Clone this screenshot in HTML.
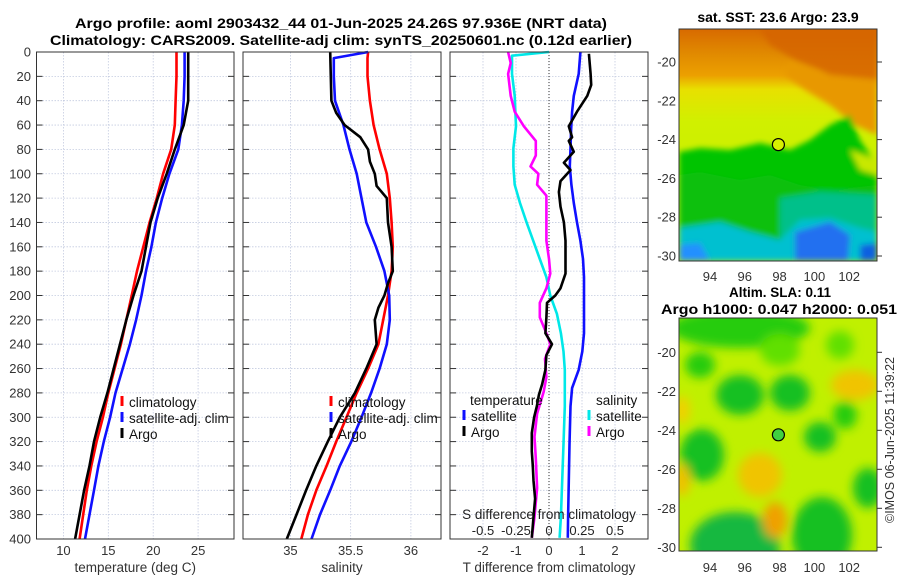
<!DOCTYPE html>
<html><head><meta charset="utf-8"><style>
html,body{margin:0;padding:0;background:#fff}
svg{display:block;font-family:"Liberation Sans",sans-serif}
</style></head><body>
<svg id="c" width="900" height="580" viewBox="0 0 900 580">
<defs>
<filter id="bl" x="-20%" y="-20%" width="140%" height="140%"><feGaussianBlur stdDeviation="3"/></filter>
<filter id="bl2" x="-30%" y="-30%" width="160%" height="160%"><feGaussianBlur stdDeviation="5"/></filter>
<clipPath id="m1c"><rect x="679" y="29" width="198" height="232"/></clipPath>
<clipPath id="m2c"><rect x="679" y="318" width="198" height="233"/></clipPath>
<linearGradient id="sstg" x1="0" y1="0" x2="0" y2="1">
<stop offset="0" stop-color="#d86a00"/><stop offset="0.1" stop-color="#e08800"/><stop offset="0.2" stop-color="#eca000"/><stop offset="0.26" stop-color="#e8e000"/><stop offset="0.4" stop-color="#d0f000"/><stop offset="1" stop-color="#c0f000"/></linearGradient>
</defs>
<text x="341" y="28" text-anchor="middle" font-weight="bold" font-size="13.5" textLength="532" lengthAdjust="spacingAndGlyphs">Argo profile: aoml 2903432_44 01-Jun-2025 24.26S 97.936E (NRT data)</text>
<text x="341" y="45" text-anchor="middle" font-weight="bold" font-size="13.5" textLength="582" lengthAdjust="spacingAndGlyphs">Climatology: CARS2009. Satellite-adj clim: synTS_20250601.nc (0.12d earlier)</text>

<!-- SST map -->
<g clip-path="url(#m1c)">
<rect x="679" y="29" width="198" height="232" fill="url(#sstg)"/>
<g filter="url(#bl)">
<polygon points="760,29 877,29 877,95 850,85 820,70 795,60 770,45" fill="#d46200" opacity="0.8"/>
<polygon points="790,60 830,75 877,80 877,135 855,125 830,105 805,90 785,75" fill="#e89800"/>
<polygon points="679,152 700,148 730,150 760,143 790,150 810,140 830,125 850,115 860,140 877,165 877,261 679,261" fill="#00c400"/>
<polygon points="679,175 700,172 740,180 770,175 800,185 830,190 877,185 877,261 679,261" fill="#08c010"/>
<polygon points="780,198 820,192 877,195 877,261 780,261" fill="#00c08a"/>
<polygon points="679,228 720,222 750,232 780,240 800,220 830,218 860,228 877,232 877,261 679,261" fill="#00c0d0"/>
<polygon points="795,232 830,222 850,235 848,261 795,261" fill="#2070f0"/>
<polygon points="679,245 700,243 710,261 679,261" fill="#2090ff"/>
<polygon points="860,245 877,243 877,261 860,261" fill="#1060e0"/>
<polygon points="850,150 877,160 877,175 860,170" fill="#c8e800"/>
</g>
</g>
<rect x="679" y="29" width="198" height="232" fill="none" stroke="#333" stroke-width="1"/>
<circle cx="778.4" cy="144.6" r="6" fill="#d8f000" stroke="#000" stroke-width="1.2"/>
<text x="778" y="22" text-anchor="middle" font-weight="bold" font-size="14">sat. SST: 23.6 Argo: 23.9</text>

<!-- SLA map -->
<g clip-path="url(#m2c)">
<rect x="679" y="318" width="198" height="233" fill="#c0f000"/>
<g filter="url(#bl2)">
<ellipse cx="740" cy="328" rx="70" ry="20" fill="#28cc10"/>
<ellipse cx="700" cy="365" rx="15" ry="13" fill="#28cc10"/>
<ellipse cx="740" cy="395" rx="24" ry="20" fill="#18c020"/>
<ellipse cx="790" cy="393" rx="20" ry="18" fill="#18c020"/>
<ellipse cx="702" cy="455" rx="22" ry="26" fill="#18c020"/>
<ellipse cx="820" cy="437" rx="16" ry="15" fill="#18c020"/>
<ellipse cx="845" cy="415" rx="12" ry="14" fill="#28cc10"/>
<ellipse cx="868" cy="488" rx="15" ry="20" fill="#18c020"/>
<ellipse cx="735" cy="545" rx="45" ry="33" fill="#18b840"/>
<ellipse cx="822" cy="535" rx="30" ry="38" fill="#18c020"/>
<ellipse cx="840" cy="345" rx="14" ry="14" fill="#60e000"/>
<ellipse cx="780" cy="350" rx="20" ry="16" fill="#60e000"/>
<ellipse cx="760" cy="475" rx="22" ry="22" fill="#f0c400"/>
<ellipse cx="775" cy="520" rx="12" ry="18" fill="#f0a000"/>
<ellipse cx="855" cy="385" rx="24" ry="15" fill="#f0c400"/>
<ellipse cx="682" cy="410" rx="8" ry="14" fill="#f0d000"/>
<ellipse cx="682" cy="480" rx="8" ry="16" fill="#f0c000"/>
</g>
</g>
<rect x="679" y="318" width="198" height="233" fill="none" stroke="#333" stroke-width="1"/>
<circle cx="778.4" cy="434.8" r="6" fill="#40d040" stroke="#000" stroke-width="1.2"/>
<text x="780" y="297" text-anchor="middle" font-weight="bold" font-size="13.5">Altim. SLA: 0.11</text>
<text x="779" y="314" text-anchor="middle" font-weight="bold" font-size="13.5" textLength="236" lengthAdjust="spacingAndGlyphs">Argo h1000: 0.047 h2000: 0.051</text>
<text transform="translate(894,440) rotate(-90)" text-anchor="middle" font-size="12.5" fill="#333">©IMOS 06-Jun-2025 11:39:22</text>
<g id="maps-axes"></g>
<g id="plots"></g>
</svg>
<script>
// ---- data (depth in m) ----
const climDepth = [0,20,40,60,80,100,120,140,160,180,200,220,240,260,280,300,320,340,360,380,400];
const tempClim  = [22.6,22.6,22.5,22.4,22.0,21.1,20.4,19.6,18.9,18.2,17.6,17.0,16.4,15.7,15.0,14.4,13.7,13.1,12.6,12.2,11.8];
const tempSat   = [23.5,23.5,23.4,23.2,22.8,21.8,21.0,20.3,19.8,19.2,18.7,18.1,17.4,16.6,15.8,15.2,14.5,13.9,13.4,12.9,12.4];
const tempArgo  = [23.9,23.9,23.9,23.4,22.4,21.5,20.5,19.7,19.2,18.7,17.8,17.0,16.3,15.6,14.9,14.1,13.4,12.9,12.3,11.8,11.3];
const salDepthClim = [0,5,20,40,60,80,100,120,140,160,180,200,220,240,260,280,300,320,340,360,380,400];
const salClim   = [35.645,35.64,35.64,35.66,35.69,35.74,35.80,35.825,35.84,35.85,35.84,35.81,35.77,35.73,35.645,35.55,35.465,35.38,35.30,35.215,35.145,35.09];
const salSat    = [35.645,35.36,35.36,35.37,35.44,35.49,35.55,35.59,35.63,35.71,35.78,35.82,35.825,35.80,35.74,35.67,35.59,35.505,35.41,35.33,35.245,35.175];
const salArgoDepth = [0,20,40,50,60,70,80,90,100,110,120,140,160,180,190,200,210,220,240,260,280,300,320,340,360,380,400];
const salArgo   = [35.33,35.335,35.34,35.38,35.45,35.58,35.645,35.66,35.70,35.715,35.80,35.81,35.84,35.85,35.81,35.78,35.73,35.70,35.715,35.63,35.535,35.41,35.31,35.215,35.13,35.05,34.97];
const tdDepthArgo = [1.5,18,27,36,49,61,70,73,82,91,97,106,115,127,140,155,170,182,194,200,206,218,231,240,249,261,273,282,291,300,313,328,340,352,367,382,399];
const tdArgo = [1.21,1.26,1.28,1.16,0.85,0.60,0.70,0.60,0.75,0.45,0.65,0.35,0.30,0.35,0.45,0.50,0.50,0.50,0.35,0.19,-0.06,-0.08,-0.11,0.09,-0.08,-0.11,-0.21,-0.31,-0.37,-0.45,-0.52,-0.52,-0.49,-0.47,-0.42,-0.47,-0.52];
const tdDepthSat = [0,18,36,49,64,79,94,109,124,140,155,170,185,200,215,231,246,261,276,291,322,352,382,399];
const tdSat = [0.95,0.90,0.75,0.70,0.67,0.65,0.63,0.68,0.75,0.85,0.95,1.03,1.06,1.06,1.06,1.06,1.01,0.90,0.70,0.65,0.62,0.60,0.58,0.57];
const sdDepthSat = [0,3,18,36,61,79,94,109,124,140,155,170,185,200,215,231,246,261,276,291,322,352,382,399];
const sdSat = [0,-0.28,-0.28,-0.26,-0.25,-0.27,-0.27,-0.26,-0.22,-0.17,-0.12,-0.07,-0.02,0.01,0.06,0.09,0.11,0.12,0.12,0.12,0.11,0.10,0.09,0.08];
const sdDepthArgo = [0,9,18,36,49,61,73,85,94,100,109,118,134,155,170,182,194,206,218,231,240,252,267,279,297,316,334,358,382,399];
const sdArgo = [-0.31,-0.29,-0.31,-0.29,-0.26,-0.19,-0.10,-0.10,-0.14,-0.08,-0.09,-0.02,-0.02,-0.02,0.00,0.01,-0.02,-0.07,-0.07,-0.02,0.01,-0.03,-0.02,-0.04,-0.09,-0.11,-0.10,-0.09,-0.11,-0.13];
const depthTicks = [0,20,40,60,80,100,120,140,160,180,200,220,240,260,280,300,320,340,360,380,400];
const tempTicks = [10,15,20,25];
const salTicks = [35,35.5,36];
const tdTicks = [-2,-1,0,1,2];
const sdTicks = [-0.5,-0.25,0,0.25,0.5];
const sdTickLabels = ["-0.5","-0.25","0","0.25","0.5"];
const latTicks = [-20,-22,-24,-26,-28,-30];
const lonTicks = [94,96,98,100,102];

const NS="http://www.w3.org/2000/svg";
const plots=document.getElementById('plots');
function mk(tag,attrs,parent){const e=document.createElementNS(NS,tag);for(const k in attrs)e.setAttribute(k,attrs[k]);(parent||plots).appendChild(e);return e;}
const Y0=52,Y1=539;
function yScale(d){return Y0+(d/400)*(Y1-Y0);}
function xScaleF(x0,x1,a,b){return v=>x0+(v-a)/(b-a)*(x1-x0);}
const panels=[
 {name:'temperature',x0:36.5,x1:234,sx:xScaleF(36.5,234,7,29),ticks:tempTicks,labels:tempTicks.map(String),title:'temperature (deg C)'},
 {name:'salinity',x0:243,x1:441,sx:xScaleF(243,441,34.606,36.25),ticks:salTicks,labels:salTicks.map(String),title:'salinity'},
 {name:'difference',x0:450,x1:648,sx:xScaleF(450,648,-3,3),ticks:tdTicks,labels:tdTicks.map(String),title:'T difference from climatology'}
];
const sxS=xScaleF(450,648,-0.75,0.75);
panels.forEach((p,i)=>{
  const g=mk('g',{});
  
  
  depthTicks.forEach(d=>{
    const l=mk('line',{x1:p.x0,x2:p.x1,y1:yScale(d),y2:yScale(d),stroke:'#c4cbe0','stroke-width':0.8,'stroke-dasharray':'1.5,1.5'},g);
    
    
    mk('line',{x1:p.x0,x2:p.x0+6,y1:yScale(d),y2:yScale(d),stroke:'#333'},g);
    mk('line',{x1:p.x1-6,x2:p.x1,y1:yScale(d),y2:yScale(d),stroke:'#333'},g);
  });
  p.ticks.forEach((t,j)=>{
    const x=p.sx(t);
    const l=mk('line',{x1:x,x2:x,y1:Y0,y2:Y1,stroke:'#c4cbe0','stroke-width':0.8,'stroke-dasharray':'1.5,1.5'},g);
    
    
    const tl=mk('text',{x:x,y:555,'text-anchor':'middle','font-size':13,fill:'#333'},g);
    tl.textContent=p.labels[j];
    
    
  });
  const at=mk('text',{x:(p.x0+p.x1)/2,y:572,'text-anchor':'middle','font-size':13.5,fill:'#333'},g);
  at.textContent=p.title;
  
  
});
depthTicks.forEach(d=>{
  const t=mk('text',{x:31,y:yScale(d)+4.5,'text-anchor':'end','font-size':13,fill:'#333'});
  t.textContent=String(d);
  
  
});
function line(xs,ds,sx,color,name,w){
  const pts=xs.map((v,i)=>sx(v).toFixed(1)+','+yScale(ds[i]).toFixed(1)).join(' ');
  const e=mk('polyline',{points:pts,fill:'none',stroke:color,'stroke-width':w||2.6,'stroke-linejoin':'round'});
  
  
}
const P=panels;
const zl=mk('line',{x1:P[2].sx(0),x2:P[2].sx(0),y1:Y0,y2:Y1,stroke:'#333','stroke-width':1,'stroke-dasharray':'1,2'});


line(tempClim,climDepth,P[0].sx,'#ff0000','temp-climatology-line');
line(tempSat,climDepth,P[0].sx,'#1010ff','temp-satellite-line');
line(tempArgo,climDepth,P[0].sx,'#000','temp-argo-line');
line(salClim,salDepthClim,P[1].sx,'#ff0000','sal-climatology-line');
line(salSat,salDepthClim,P[1].sx,'#1010ff','sal-satellite-line');
line(salArgo,salArgoDepth,P[1].sx,'#000','sal-argo-line');
line(sdSat,sdDepthSat,sxS,'#00e8e8','sdiff-satellite-line');
line(sdArgo,sdDepthArgo,sxS,'#ff00ff','sdiff-argo-line');
line(tdSat,tdDepthSat,P[2].sx,'#1010ff','tdiff-satellite-line');
line(tdArgo,tdDepthArgo,P[2].sx,'#000','tdiff-argo-line');
P.forEach(p=>{
  const r=mk('rect',{x:p.x0,y:Y0,width:p.x1-p.x0,height:Y1-Y0,fill:'none',stroke:'#333','stroke-width':1});
  
  
});
const st=mk('text',{x:549,y:519,'text-anchor':'middle','font-size':13.5,fill:'#222'});
st.textContent='S difference from climatology';


sdTicks.forEach((t,j)=>{
  const e=mk('text',{x:sxS(t),y:535,'text-anchor':'middle','font-size':13,fill:'#222'});
  e.textContent=sdTickLabels[j];
  
  
});
function legendEntry(x,y,color,label){
  const g=mk('g',{});
  
  
  mk('line',{x1:x,x2:x,y1:y-11,y2:y-1,stroke:color,'stroke-width':3},g);
  const t=mk('text',{x:x+7,y:y,'font-size':13.5,fill:'#111'},g);
  t.textContent=label;
}
[[122,'#ff0000','climatology'],[122,'#1010ff','satellite-adj. clim'],[122,'#000','Argo']].forEach((e,i)=>legendEntry(e[0],407+i*16,e[1],e[2]));
[[331,'#ff0000','climatology'],[331,'#1010ff','satellite-adj. clim'],[331,'#000','Argo']].forEach((e,i)=>legendEntry(e[0],407+i*16,e[1],e[2]));
const th=mk('text',{x:470,y:405,'font-size':13.5,fill:'#111'});th.textContent='temperature';


const sh=mk('text',{x:596,y:405,'font-size':13.5,fill:'#111'});sh.textContent='salinity';


legendEntry(464,421,'#1010ff','satellite');
legendEntry(464,437,'#000','Argo');
legendEntry(589,421,'#00e8e8','satellite');
legendEntry(589,437,'#ff00ff','Argo');
const ma=document.getElementById('maps-axes');
function lonX(l){return 679+(l-92.22)*17.4;}
[[62,19.4,281],[352.3,19.5,572]].forEach((m,k)=>{
  latTicks.forEach(lt=>{
    const py=m[0]+((-20-lt))*m[1];
    const t=mk('text',{x:676,y:py+4.5,'text-anchor':'end','font-size':13,fill:'#333'},ma);
    t.textContent=String(lt);
    
    
    mk('line',{x1:877,x2:882,y1:py,y2:py,stroke:'#333'},ma);
  });
  lonTicks.forEach(ln=>{
    const t=mk('text',{x:lonX(ln),y:m[2],'text-anchor':'middle','font-size':13,fill:'#333'},ma);
    t.textContent=String(ln);
    
    
  });
});
</script>
</body></html>
